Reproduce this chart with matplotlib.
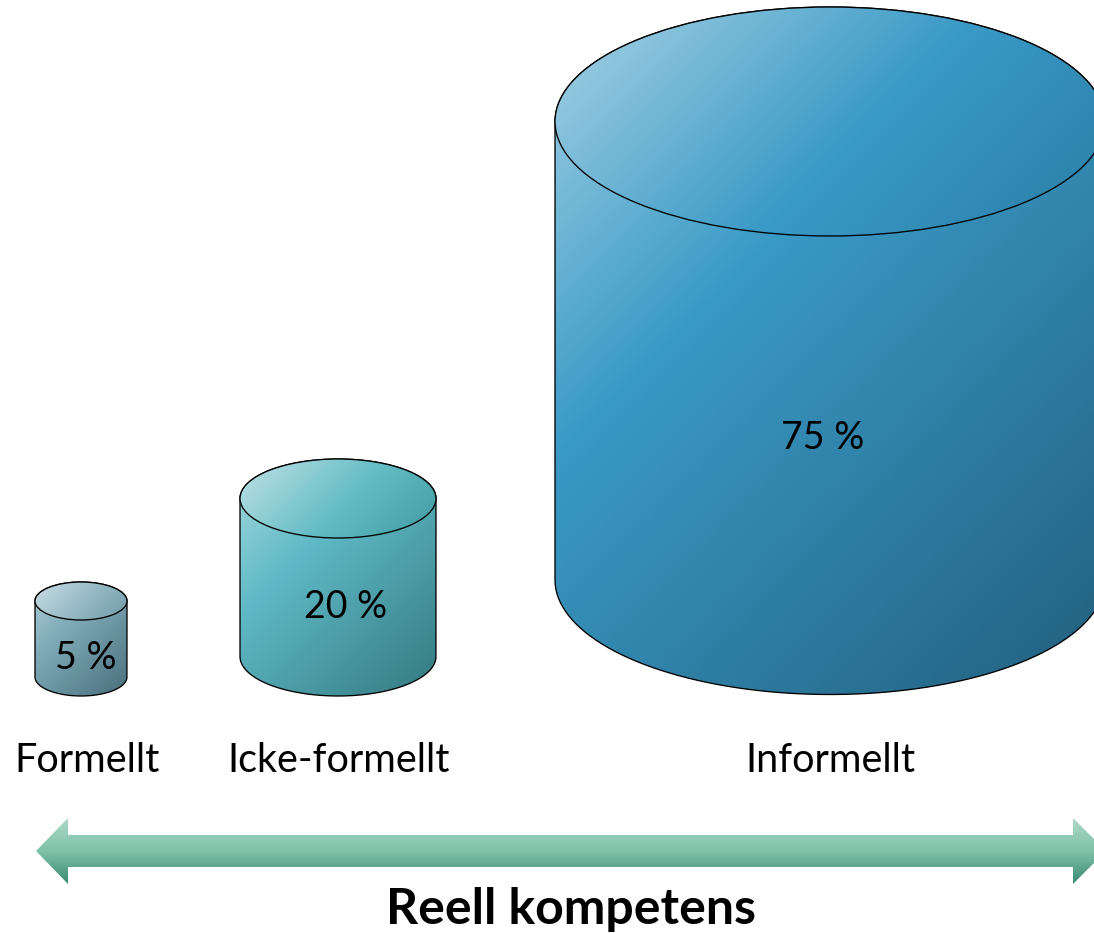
import numpy as np
import matplotlib
matplotlib.use('Agg')
import matplotlib.pyplot as plt
from matplotlib.colors import LinearSegmentedColormap
from matplotlib.patches import Ellipse, Polygon, PathPatch
from matplotlib.path import Path

plt.rcParams['font.family'] = ['Lato', 'DejaVu Sans']

categories = ['Formellt', 'Icke-formellt', 'Informellt']
shares = [5, 20, 75]

# cylinders, in picture pixels
cyl_x = [81, 338, 830]
cyl_rx = [46, 98, 275]
cyl_ry = [19, 39.5, 114.5]
cyl_top = [601, 498.5, 121.5]
cyl_bottom = [677, 656.5, 580]
share_x = [86, 346, 823]
share_y = [658, 607, 438]
cat_x = [87, 339, 830]

body_colors = [
    ['#b3d0da', '#7fabb8', '#4a6f7d'],
    ['#a8dbdf', '#5fb9c6', '#347a80'],
    ['#a5d2e5', '#3a9ac6', '#225f7e'],
]
top_colors = [
    ['#c9dde4', '#93b8c4', '#6f9aa8'],
    ['#c0e2e6', '#62bcc4', '#3f9aa2'],
    ['#a8d3e5', '#3a9ac6', '#2a7ea6'],
]

arrow_colors = ['#aed8c8', '#7dc2a9', '#3c8a72']


def diagonal(ax, box, colors, clip, mid):
    # 45 degree gradient in pixel space, clipped to the shape
    x0, x1, y0, y1 = box
    xx, yy = np.meshgrid(np.linspace(0, x1 - x0, 400), np.linspace(0, y1 - y0, 400))
    cmap = LinearSegmentedColormap.from_list('g', [(0, colors[0]), (mid, colors[1]), (1, colors[2])])
    im = ax.imshow((xx + yy) / (x1 - x0 + y1 - y0), extent=(x0, x1, y1, y0), cmap=cmap,
                   vmin=0, vmax=1, aspect='auto', zorder=2)
    im.set_clip_path(clip)
    return im


def cylinder(ax, cx, rx, ry, top, bottom, body, lid):
    t = np.linspace(np.pi, 0, 160)
    up = np.column_stack([cx + rx * np.cos(t), top - ry * np.sin(t)])
    low = np.column_stack([cx + rx * np.cos(t[::-1]), bottom + ry * np.sin(t[::-1])])
    pts = np.vstack([up, low, up[:1]])
    outline = PathPatch(Path(pts), fc='none', ec='black', lw=0.95, zorder=3)
    ax.add_patch(outline)
    diagonal(ax, (cx - rx, cx + rx, top - ry, bottom + ry), body, outline, 0.36)
    cap = Ellipse((cx, top), 2 * rx, 2 * ry, fc='none', ec='black', lw=0.95, zorder=5)
    ax.add_patch(cap)
    im = diagonal(ax, (cx - rx, cx + rx, top - ry, top + ry), lid, cap, 0.55)
    im.set_zorder(4)


fig = plt.figure(figsize=(10.94, 9.33), dpi=100)
ax = fig.add_axes([0, 0, 1, 1])

for i in range(3):
    cylinder(ax, cyl_x[i], cyl_rx[i], cyl_ry[i], cyl_top[i], cyl_bottom[i], body_colors[i], top_colors[i])
    ax.text(share_x[i], share_y[i], f'{shares[i]} %', fontsize=27, ha='center', va='center', zorder=6)
    ax.text(cat_x[i], 761, categories[i], fontsize=28.5, ha='center', va='center', zorder=6)

# double arrow
arrow = Polygon([(36, 851), (68, 818), (68, 835), (1073, 835), (1073, 818), (1106, 851),
                 (1073, 884), (1073, 867), (68, 867), (68, 884)],
                fc='none', ec='none', zorder=3)
ax.add_patch(arrow)
cmap = LinearSegmentedColormap.from_list('a', arrow_colors)
im = ax.imshow(np.linspace(0, 1, 200).reshape(-1, 1), extent=(36, 1106, 884, 818), cmap=cmap,
               aspect='auto', zorder=2)
im.set_clip_path(arrow)

ax.text(571, 909, 'Reell kompetens', fontsize=36, fontweight='bold', ha='center', va='center', zorder=6)

ax.set_xlim(0, 1094)
ax.set_ylim(933, 0)
ax.axis('off')
fig.savefig('out.png', dpi=100)
